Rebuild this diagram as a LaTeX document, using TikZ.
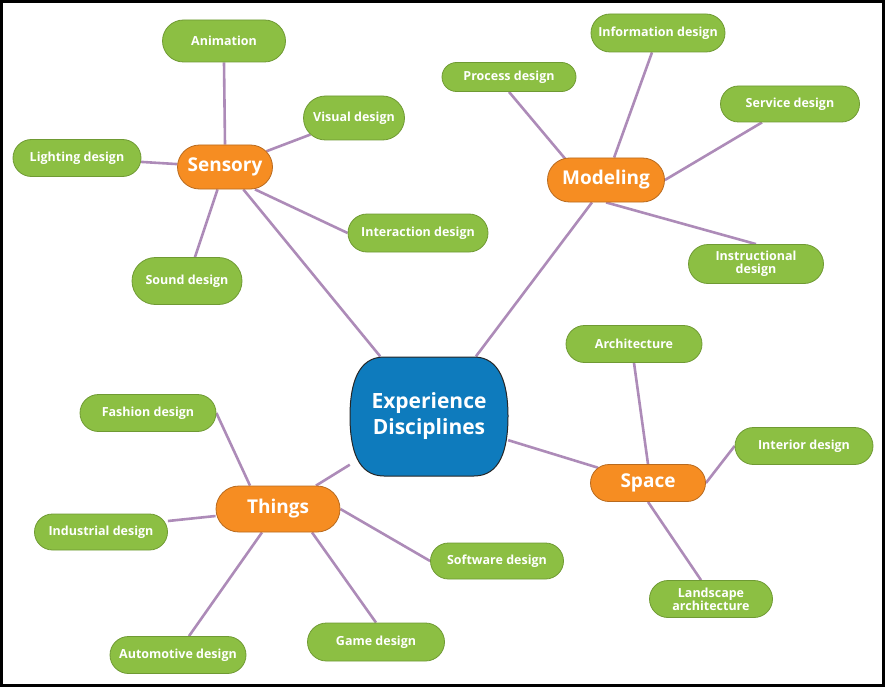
\documentclass[tikz,border=0pt]{standalone}
\usepackage{fontspec}
\setmainfont{Open Sans}
\usetikzlibrary{shapes.misc,backgrounds}
\definecolor{leafgreen}{HTML}{8CBF43}
\definecolor{leafborder}{HTML}{6F9A33}
\definecolor{huborange}{HTML}{F68D22}
\definecolor{hubborder}{HTML}{B86A1E}
\definecolor{coreblue}{HTML}{0E7BBD}
\definecolor{linkpurple}{HTML}{AD8BB8}
\tikzset{
  leaf/.style={rounded rectangle, fill=leafgreen, draw=leafborder, line width=0.8pt,
    text=white, font=\bfseries\fontsize{12.5}{13}\selectfont, align=center, inner sep=0pt},
  hub/.style={rounded rectangle, fill=huborange, draw=hubborder, line width=0.8pt,
    text=white, font=\bfseries\fontsize{19}{22}\selectfont, inner sep=0pt},
  link/.style={draw=linkpurple, line width=2.6pt},
}
\begin{document}
\begin{tikzpicture}[x=1pt,y=-1pt]
\useasboundingbox (0,0) rectangle (885,687);
% core
\fill[coreblue, draw=black!85, line width=1pt]
  (384,357) -- (474,357) .. controls (500,357) and (508,384) .. (508,416)
  .. controls (508,450) and (500,476) .. (474,476) -- (384,476)
  .. controls (358,476) and (350,450) .. (350,416)
  .. controls (350,384) and (358,357) .. (384,357) -- cycle;
\node[text=white, font=\bfseries\fontsize{21}{26}\selectfont, align=center,
  minimum width=158pt, minimum height=119pt, inner sep=0pt] (core) at (429,416) {Experience\\Disciplines};
% hubs
\node[hub, minimum width=95pt, minimum height=44pt] (sens) at (225,167) {Sensory};
\node[hub, minimum width=117pt, minimum height=44pt] (mod) at (606,180) {Modeling};
\node[hub, minimum width=115pt, minimum height=37pt] (space) at (648,483) {Space};
\node[hub, minimum width=124pt, minimum height=46pt] (things) at (278,509) {Things};
% leaves
\node[leaf, minimum width=123pt, minimum height=42pt] (anim) at (224,41) {Animation};
\node[leaf, minimum width=101pt, minimum height=44pt] (vis) at (354,118) {Visual design};
\node[leaf, minimum width=128pt, minimum height=37pt] (light) at (77,158) {Lighting design};
\node[leaf, minimum width=140pt, minimum height=38pt] (inter) at (418,233) {Interaction design};
\node[leaf, minimum width=110pt, minimum height=47pt] (sound) at (187,281) {Sound design};
\node[leaf, minimum width=134pt, minimum height=29pt] (proc) at (509,77) {Process design};
\node[leaf, minimum width=134pt, minimum height=38pt] (info) at (658,33) {Information design};
\node[leaf, minimum width=139pt, minimum height=36pt] (serv) at (790,104) {Service design};
\node[leaf, minimum width=135pt, minimum height=39pt] (instr) at (756,264) {Instructional\\design};
\node[leaf, minimum width=136pt, minimum height=37pt] (arch) at (634,344) {Architecture};
\node[leaf, minimum width=138pt, minimum height=37pt] (inte) at (804,446) {Interior design};
\node[leaf, minimum width=123pt, minimum height=37pt] (land) at (711,599) {Landscape\\architecture};
\node[leaf, minimum width=136pt, minimum height=37pt] (fash) at (148,413) {Fashion design};
\node[leaf, minimum width=133pt, minimum height=36pt] (indu) at (101,532) {Industrial design};
\node[leaf, minimum width=133pt, minimum height=36pt] (soft) at (497,561) {Software design};
\node[leaf, minimum width=137pt, minimum height=38pt] (game) at (376,642) {Game design};
\node[leaf, minimum width=136pt, minimum height=37pt] (auto) at (178,655) {Automotive design};
% connectors
\begin{scope}[on background layer]
\draw[link] (core) -- (sens);
\draw[link] ([xshift=-14pt]mod.south) -- ([xshift=47pt]core.north);
\draw[link] (core) -- (space);
\draw[link] (core) -- (things);
\draw[link] (sens.north) -- (anim.south);
\draw[link] (sens) -- (vis);
\draw[link] (sens) -- (light);
\draw[link] ([xshift=30pt]sens.south) -- (inter.west);
\draw[link] (sens) -- (sound);
\draw[link] ([xshift=-23pt]mod.center) -- (proc.south);
\draw[link] (mod) -- ([xshift=-6pt]info.south);
\draw[link] (mod.east) -- ([xshift=-28pt]serv.south);
\draw[link] (mod.south) -- (instr.north);
\draw[link] (space.north) -- (arch.south);
\draw[link] (space.east) -- (inte.west);
\draw[link] (space.south) -- ([xshift=-10pt]land.north);
\draw[link] ([xshift=-28pt]things.north) -- (fash.east);
\draw[link] ([yshift=-7pt]things.west) -- ([yshift=11pt]indu.east);
\draw[link] (things.east) -- (soft.west);
\draw[link] ([xshift=34pt]things.south) -- (game.north);
\draw[link] ([xshift=-16pt]things.south) -- ([xshift=11pt]auto.north);
\end{scope}
% frame
\draw[black, line width=3pt] (1.5,1.5) rectangle (883.5,685.5);
\end{tikzpicture}
\end{document}
